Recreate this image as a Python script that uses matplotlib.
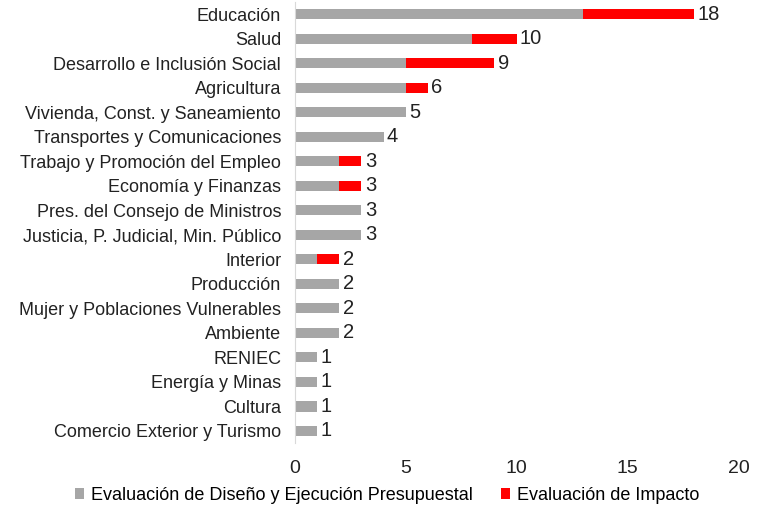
import matplotlib.pyplot as plt

plt.rcParams['font.family'] = ['Liberation Sans', 'DejaVu Sans']

sectores = ['Educación', 'Salud', 'Desarrollo e Inclusión Social', 'Agricultura',
            'Vivienda, Const. y Saneamiento', 'Transportes y Comunicaciones',
            'Trabajo y Promoción del Empleo', 'Economía y Finanzas',
            'Pres. del Consejo de Ministros', 'Justicia, P. Judicial, Min. Público',
            'Interior', 'Producción', 'Mujer y Poblaciones Vulnerables', 'Ambiente',
            'RENIEC', 'Energía y Minas', 'Cultura', 'Comercio Exterior y Turismo']
diseno = [13, 8, 5, 5, 5, 4, 2, 2, 3, 3, 1, 2, 2, 2, 1, 1, 1, 1]
impacto = [5, 2, 4, 1, 0, 0, 1, 1, 0, 0, 1, 0, 0, 0, 0, 0, 0, 0]
totales = [d + i for d, i in zip(diseno, impacto)]

fig = plt.figure(figsize=(7.62, 5.07), dpi=100)
ax = fig.add_axes([0.387, 0.126, 0.582, 0.87])

y = list(range(len(sectores)))
ax.barh(y, diseno, height=0.42, color='#a6a6a6',
        label='Evaluación de Diseño y Ejecución Presupuestal')
ax.barh(y, impacto, left=diseno, height=0.42, color='#ff0000',
        label='Evaluación de Impacto')
for yi, t in zip(y, totales):
    ax.text(t + 0.15, yi, str(t), va='center', ha='left', fontsize=14.5, color='#222222')

ax.set_yticks(y)
ax.set_yticklabels(sectores, fontsize=13, color='#222222')
ax.set_ylim(len(sectores) - 0.5, -0.5)
ax.set_xlim(0, 20)
ax.set_xticks([0, 5, 10, 15, 20])
ax.tick_params(axis='x', length=0, labelsize=14, pad=12, colors='#222222')
ax.tick_params(axis='y', length=0, pad=10)
for s in ['top', 'right', 'bottom']:
    ax.spines[s].set_visible(False)
ax.spines['left'].set_color('#d9d9d9')

fig.legend(loc='lower center', bbox_to_anchor=(0.508, -0.026), ncol=2, frameon=False,
           fontsize=13, handlelength=0.5, handleheight=0.5, handletextpad=0.35,
           columnspacing=1.6)

fig.savefig('out.png', dpi=100)
